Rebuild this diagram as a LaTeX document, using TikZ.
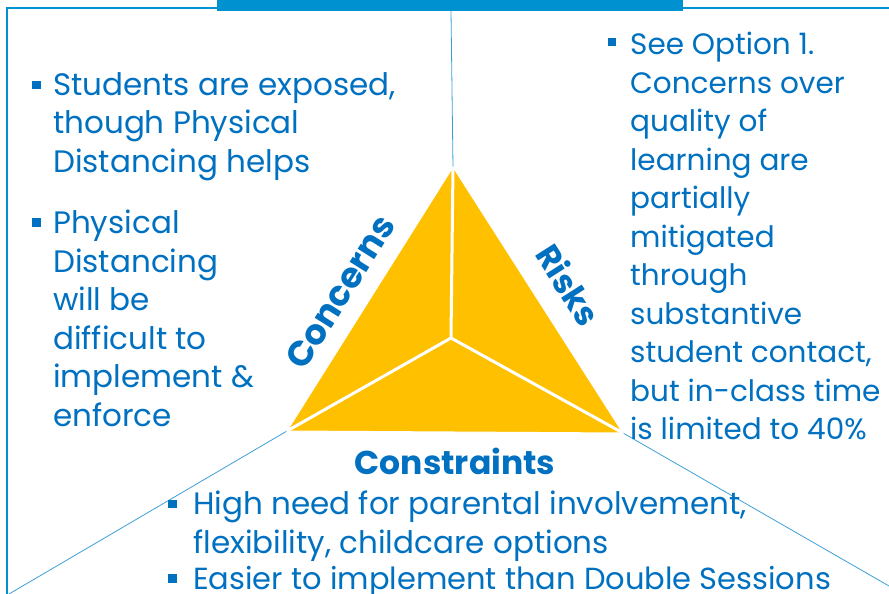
\documentclass[tikz,border=0pt]{standalone}
\usepackage{fontspec}
\setmainfont{Poppins}
\usetikzlibrary{calc}
\definecolor{txtblue}{RGB}{0,112,192}
\definecolor{framebl}{RGB}{0,146,208}
\definecolor{linebl}{RGB}{60,160,215}
\definecolor{gold}{RGB}{255,192,0}
\tikzset{
  item/.style={anchor=north west, inner sep=0pt, align=left, text=txtblue,
    font=\fontsize{31}{38.5}\selectfont},
  blt/.style={fill=txtblue},
  head/.style={text=txtblue, inner sep=0pt, font=\fontsize{33}{40}\selectfont\bfseries},
  thinline/.style={draw=linebl, line width=0.8pt},
  spoke/.style={draw=white, line width=3pt},
}

\begin{document}
\begin{tikzpicture}[x=1pt,y=-1pt]
\useasboundingbox (0,0) rectangle (889,594);

% frame and title bar
\draw[framebl, line width=2.5pt] (7,594) -- (7,8) -- (889,8);
\fill[framebl] (217,0) rectangle (683,11);

% triangle corners
\coordinate (top) at (453,167);
\coordinate (bl) at (287,431);
\coordinate (br) at (623,433);
\coordinate (mid) at (451,338);
\coordinate (hdr) at (451,11);
\coordinate (cbl) at (9,594);
\coordinate (cbr) at (889,586);

% lines out to the frame
\draw[thinline] (hdr) -- (top);
\draw[thinline] (bl) -- (cbl);
\draw[thinline] (br) -- (cbr);

\fill[gold, draw=white, line width=1pt] (top) -- (br) -- (bl) -- cycle;
\draw[spoke] (mid) -- (top);
\draw[spoke] (mid) -- (bl);
\draw[spoke] (mid) -- (br);

% labels on the sides
\node[head, font=\fontsize{35}{40}\selectfont\bfseries, rotate=57.8] (concerns) at (340,292) {Concerns};
\node[head, rotate=-57.4] (risks) at (569,285) {Risks};
\node[head] (constraints) at (455,461) {Constraints};

% bullet texts
\node[item] (s1) at (53,72) {Students are exposed,\\though Physical\\Distancing helps};
\node[item] (s2) at (53,210) {Physical\\Distancing\\will be\\difficult to\\implement \&\\enforce};
\node[item, font=\fontsize{29.5}{38.5}\selectfont] (r1) at (630,32) {See Option 1.\\Concerns over\\quality of\\learning are\\partially\\mitigated\\through\\substantive\\student contact,\\but in-class time\\is limited to 40\%};
\node[item] (c1) at (193,491) {High need for parental involvement,\\flexibility, childcare options};
\node[item, font=\fontsize{30.5}{38.5}\selectfont] (c2) at (193,566) {Easier to implement than Double Sessions};

\fill[blt] ($(s1.north west)+(-21,9)$) rectangle +(9,8);
\fill[blt] ($(s2.north west)+(-21,8)$) rectangle +(9,9);
\fill[blt] ($(r1.north west)+(-22,6)$) rectangle +(8,8);
\fill[blt] ($(c1.north west)+(-25,9)$) rectangle +(9,8);
\fill[blt] ($(c2.north west)+(-25,8)$) rectangle +(9,9);
\end{tikzpicture}
\end{document}
